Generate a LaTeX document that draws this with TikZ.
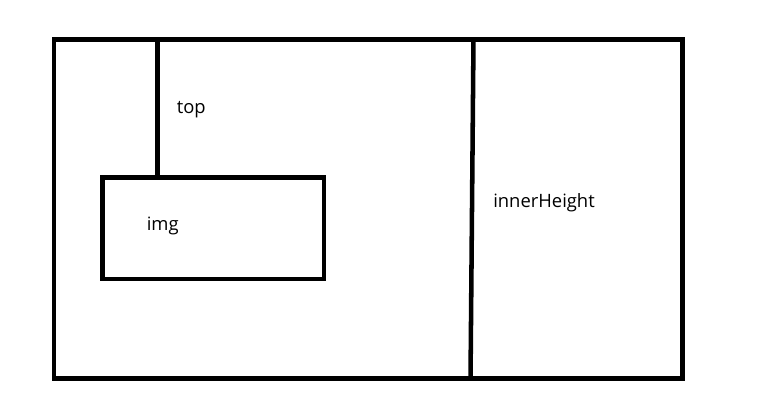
\documentclass[tikz,border=0pt]{standalone}
\usepackage{fontspec}
\setmainfont{Open Sans}
\begin{document}
\begin{tikzpicture}[x=0.75pt,y=-0.75pt,
  box/.style={draw, line width=3.4pt, inner sep=0pt, line join=miter},
  thick line/.style={line width=3.4pt},
  lbl/.style={font=\fontsize{13.8pt}{15pt}\selectfont, inner sep=0pt, anchor=base west}]
\useasboundingbox (0,0) rectangle (769,413);
\fill[white] (0,0) rectangle (769,413);
\node[box, minimum width=471.4pt, minimum height=254.25pt] (frame) at (368.25,209) {};
\node[box, minimum width=166.1pt, minimum height=76.1pt] (img) at (213.25,228.25) {};
\coordinate (ctop) at (157.5,39.5);
\coordinate (ihtop) at (473.5,39.5);
\coordinate (ihbot) at (470.5,380);
\draw[thick line] (ctop) -- (ctop |- img.north);
\draw[thick line] (ihtop) -- (ihbot);
\node[lbl] (ltop) at (176.5,113.3) {top};
\node[lbl] (limg) at (146.5,231) {img};
\node[lbl] (lih) at (493,207.7) {innerHeight};
\end{tikzpicture}
\end{document}
